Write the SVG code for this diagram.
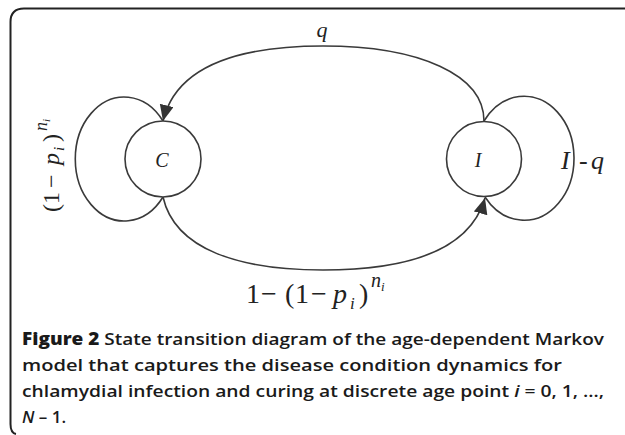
<svg xmlns="http://www.w3.org/2000/svg" width="625" height="435" viewBox="0 0 625 435">
<style>
.edge{fill:none;stroke:#3a3a3a;stroke-width:1.6}
.node{fill:#fff;stroke:#3a3a3a;stroke-width:1.6}
.math{font-family:"Liberation Serif","Times New Roman",serif;fill:#222}
.it{font-style:italic}
.cap{font-family:"Open Sans","Liberation Sans",Arial,sans-serif;font-size:17px;font-weight:600;fill:#1a1a1a}
.b{font-weight:800}
</style>
<defs>
<marker id="arr" markerUnits="userSpaceOnUse" markerWidth="18" markerHeight="16" refX="16" refY="7" orient="auto">
<path d="M0,0 L16,7 L0,14 z" fill="#333"/>
</marker>
</defs>
<rect width="625" height="435" fill="#fff"/>
<path d="M625 8.5 H24 Q10.5 8.5 10.5 22 V424 Q10.5 433 16 434" fill="none" stroke="#222" stroke-width="2"/>
<g id="connectors">
<path class="edge" d="M163 121 A49 62 0 1 0 163 197"/>
<path class="edge" d="M484 121 A50 62 0 1 1 485 197"/>
<path class="edge" marker-end="url(#arr)" d="M484 121 C484 75 420 46 323 46 C230 46 175 70 163 121"/>
<path class="edge" marker-end="url(#arr)" d="M163 197 C175 250 240 270 323 270 C410 270 470 250 485 198"/>
</g>
<g id="node-C">
<circle class="node" cx="163" cy="159" r="38"/>
<text class="math it" x="162" y="167" font-size="20" text-anchor="middle">C</text>
</g>
<g id="node-I">
<circle class="node" cx="484" cy="159" r="37.5"/>
<text class="math it" x="478" y="167" font-size="20" text-anchor="middle">I</text>
</g>
<g id="labels">
<text class="math it" x="322" y="37" font-size="22" text-anchor="middle">q</text>
<text class="math" font-size="26" y="169"><tspan class="it" x="561">I</tspan><tspan x="579">-</tspan><tspan class="it" x="591">q</tspan></text>
<text class="math" font-size="28" y="303"><tspan x="246">1</tspan><tspan x="261">−</tspan><tspan x="285">(</tspan><tspan x="295">1</tspan><tspan x="311">−</tspan><tspan class="it" x="333">p</tspan><tspan class="it" x="350" y="309" font-size="17">i</tspan><tspan x="359" y="303">)</tspan><tspan class="it" x="371" y="287" font-size="20">n</tspan><tspan class="it" x="381" y="291" font-size="13">i</tspan></text>
<text class="math" font-size="24" transform="translate(59 212) rotate(-90)" y="0"><tspan x="0">(</tspan><tspan x="8">1</tspan><tspan x="24">−</tspan><tspan class="it" x="47">p</tspan><tspan class="it" x="61" y="5" font-size="15">i</tspan><tspan x="70" y="0">)</tspan><tspan class="it" x="81" y="-12" font-size="18">n</tspan><tspan class="it" x="90" y="-9" font-size="11">i</tspan></text>
</g>
<g id="caption">
<text class="cap" x="22" y="345" textLength="582" lengthAdjust="spacingAndGlyphs"><tspan class="b">Figure 2</tspan> State transition diagram of the age-dependent Markov</text>
<text class="cap" x="22" y="371" textLength="540" lengthAdjust="spacingAndGlyphs">model that captures the disease condition dynamics for</text>
<text class="cap" x="22" y="397" textLength="582" lengthAdjust="spacingAndGlyphs">chlamydial infection and curing at discrete age point <tspan font-style="italic">i</tspan> = 0, 1, …,</text>
<text class="cap" x="22" y="423"><tspan font-style="italic">N</tspan> – 1.</text>
</g>
</svg>
